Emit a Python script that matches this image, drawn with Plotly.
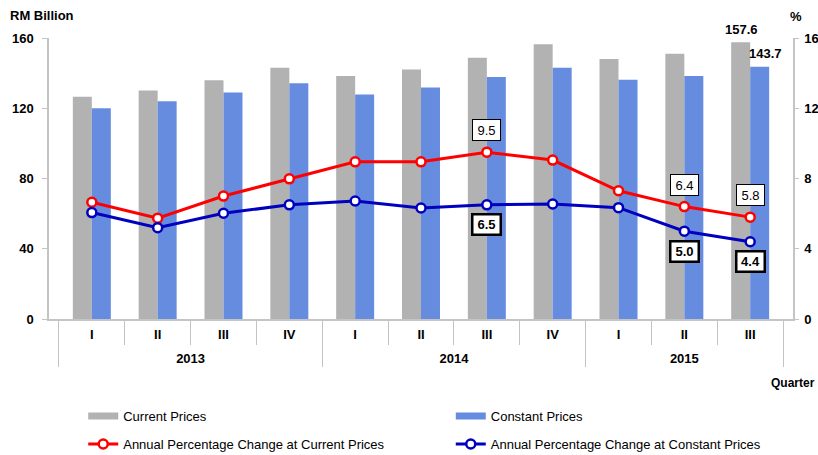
import plotly.graph_objects as go

years = ["2013"] * 4 + ["2014"] * 4 + ["2015"] * 3
quarters = ["I", "II", "III", "IV", "I", "II", "III", "IV", "I", "II", "III"]

current_prices = [126.5, 130.1, 136.0, 143.0, 138.3, 142.0, 148.8, 156.5, 148.0, 151.0, 157.6]
constant_prices = [120.0, 124.0, 129.0, 134.3, 127.8, 131.8, 137.8, 143.0, 136.2, 138.3, 143.7]
pct_current = [6.65, 5.74, 7.0, 7.98, 8.95, 8.95, 9.5, 9.05, 7.3, 6.4, 5.8]
pct_constant = [6.06, 5.2, 6.02, 6.5, 6.72, 6.32, 6.5, 6.55, 6.34, 5.0, 4.4]

red_labels_idx = [6, 9, 10]
blue_labels_idx = [6, 9, 10]

FONT = "Liberation Sans, Arial, sans-serif"
GRID = "#C4C4C4"
GRAY_BAR = "#B2B2B2"
BLUE_BAR = "#668CE0"
PAD = "<span style='font-size:22px'>\u00a0</span>"
quarter_labels = [PAD + q + PAD for q in quarters]
x = [years, quarter_labels]

fig = go.Figure()
fig.add_trace(go.Bar(x=x, y=current_prices, name="Current Prices", showlegend=False,
                     marker=dict(color=GRAY_BAR, line=dict(width=0))))
fig.add_trace(go.Bar(x=x, y=constant_prices, name="Constant Prices", showlegend=False,
                     marker=dict(color=BLUE_BAR, line=dict(width=0))))
# legend swatches (wide flat rectangles, as in the original legend)
fig.add_trace(go.Scatter(x=[None], y=[None], mode="lines", name="Current Prices",
                         line=dict(color=GRAY_BAR, width=7), legend="legend", hoverinfo="skip"))
fig.add_trace(go.Scatter(x=[None], y=[None], mode="lines", name="Constant Prices",
                         line=dict(color=BLUE_BAR, width=7), legend="legend2", hoverinfo="skip"))
fig.add_trace(go.Scatter(x=x, y=pct_current, yaxis="y2", mode="lines+markers",
                         name="Annual Percentage Change at Current Prices",
                         line=dict(color="#FF0000", width=3),
                         marker=dict(symbol="circle", size=9, color="white",
                                     line=dict(color="#FF0000", width=2.5)),
                         legend="legend3"))
fig.add_trace(go.Scatter(x=x, y=pct_constant, yaxis="y2", mode="lines+markers",
                         name="Annual Percentage Change at Constant Prices",
                         line=dict(color="#0000BF", width=3),
                         marker=dict(symbol="circle", size=9, color="white",
                                     line=dict(color="#0000BF", width=2.5)),
                         legend="legend4"))

annotations = []
for i in red_labels_idx:
    annotations.append(dict(x=i, y=pct_current[i], xref="x", yref="y2", yshift=22,
                            text=f"{pct_current[i]:.1f}", showarrow=False,
                            xanchor="center", yanchor="middle",
                            font=dict(family=FONT, size=13, color="black"),
                            bgcolor="white", bordercolor="black", borderwidth=1,
                            borderpad=2, width=23, height=16))
for i in blue_labels_idx:
    annotations.append(dict(x=i, y=pct_constant[i], xref="x", yref="y2", yshift=-20,
                            text=f"<b>{pct_constant[i]:.1f}</b>", showarrow=False,
                            xanchor="center", yanchor="middle",
                            font=dict(family=FONT, size=13, color="black"),
                            bgcolor="white", bordercolor="black", borderwidth=2.5,
                            borderpad=1, width=24, height=16))
last = len(current_prices) - 1
annotations.append(dict(x=last, y=current_prices[last], xref="x", yref="y", yshift=13, xshift=-9,
                        xanchor="center", yanchor="middle",
                        text=f"<b>{current_prices[last]:.1f}</b>", showarrow=False,
                        font=dict(family=FONT, size=13, color="black")))
annotations.append(dict(x=last, y=constant_prices[last], xref="x", yref="y", yshift=13, xshift=15,
                        xanchor="center", yanchor="middle",
                        text=f"<b>{constant_prices[last]:.1f}</b>", showarrow=False,
                        font=dict(family=FONT, size=13, color="black")))
annotations.append(dict(x=-0.0094, y=1.08, xref="paper", yref="paper", text="<b>RM Billion</b>",
                        xanchor="center", yanchor="middle",
                        showarrow=False, font=dict(family=FONT, size=13, color="black")))
annotations.append(dict(x=1.004, y=1.075, xref="paper", yref="paper", text="<b>%</b>",
                        xanchor="center", yanchor="middle",
                        showarrow=False, font=dict(family=FONT, size=13, color="black")))
annotations.append(dict(x=1.0323, y=-0.228, xref="paper", yref="paper", text="<b>Quarter</b>",
                        xanchor="right", yanchor="middle",
                        showarrow=False, font=dict(family=FONT, size=12, color="black")))

leg_common = dict(orientation="h", xanchor="left", yanchor="middle",
                  font=dict(family=FONT, size=13, color="black"), bgcolor="rgba(0,0,0,0)")
col1, col2 = 0.046, 0.540
row1, row2 = -0.345, -0.445

fig.update_layout(
    width=818, height=455,
    margin=dict(l=49, r=25, t=38, b=136, autoexpand=False),
    paper_bgcolor="white", plot_bgcolor="white",
    barmode="group", bargap=0.423, bargroupgap=0,
    font=dict(family=FONT, size=13, color="black"),
    xaxis=dict(type="multicategory", showline=True, linecolor=GRID, linewidth=1.5,
               ticks="outside", ticklen=24, tickcolor=GRID, tickson="boundaries",
               showdividers=True, dividercolor=GRID, dividerwidth=1,
               tickfont=dict(family=FONT, size=13, color="black", weight="bold"),
               ticklabelstandoff=3,
               showgrid=False, zeroline=False, automargin=False),
    yaxis=dict(range=[0, 160], dtick=40, showline=True, linecolor=GRID, linewidth=1.5,
               ticks="outside", ticklen=5, tickcolor=GRID, showgrid=False, zeroline=False,
               tickfont=dict(family=FONT, size=13, color="black", weight="bold"),
               ticklabelstandoff=6, automargin=False),
    yaxis2=dict(range=[0, 16], dtick=4, overlaying="y", side="right", showline=True,
                linecolor=GRID, linewidth=1.5, ticks="outside", ticklen=4, tickcolor=GRID,
                showgrid=False, zeroline=False,
                tickfont=dict(family=FONT, size=13, color="black", weight="bold"),
                ticklabelstandoff=3, automargin=False),
    legend=dict(x=col1, y=row1, **leg_common),
    legend2=dict(x=col2, y=row1, **leg_common),
    legend3=dict(x=col1, y=row2, **leg_common),
    legend4=dict(x=col2, y=row2, **leg_common),
    annotations=annotations,
    showlegend=True,
)

fig.write_html("out.html", config={"displayModeBar": False},
               post_script="document.body.style.margin='0';document.body.style.overflow='hidden';")
